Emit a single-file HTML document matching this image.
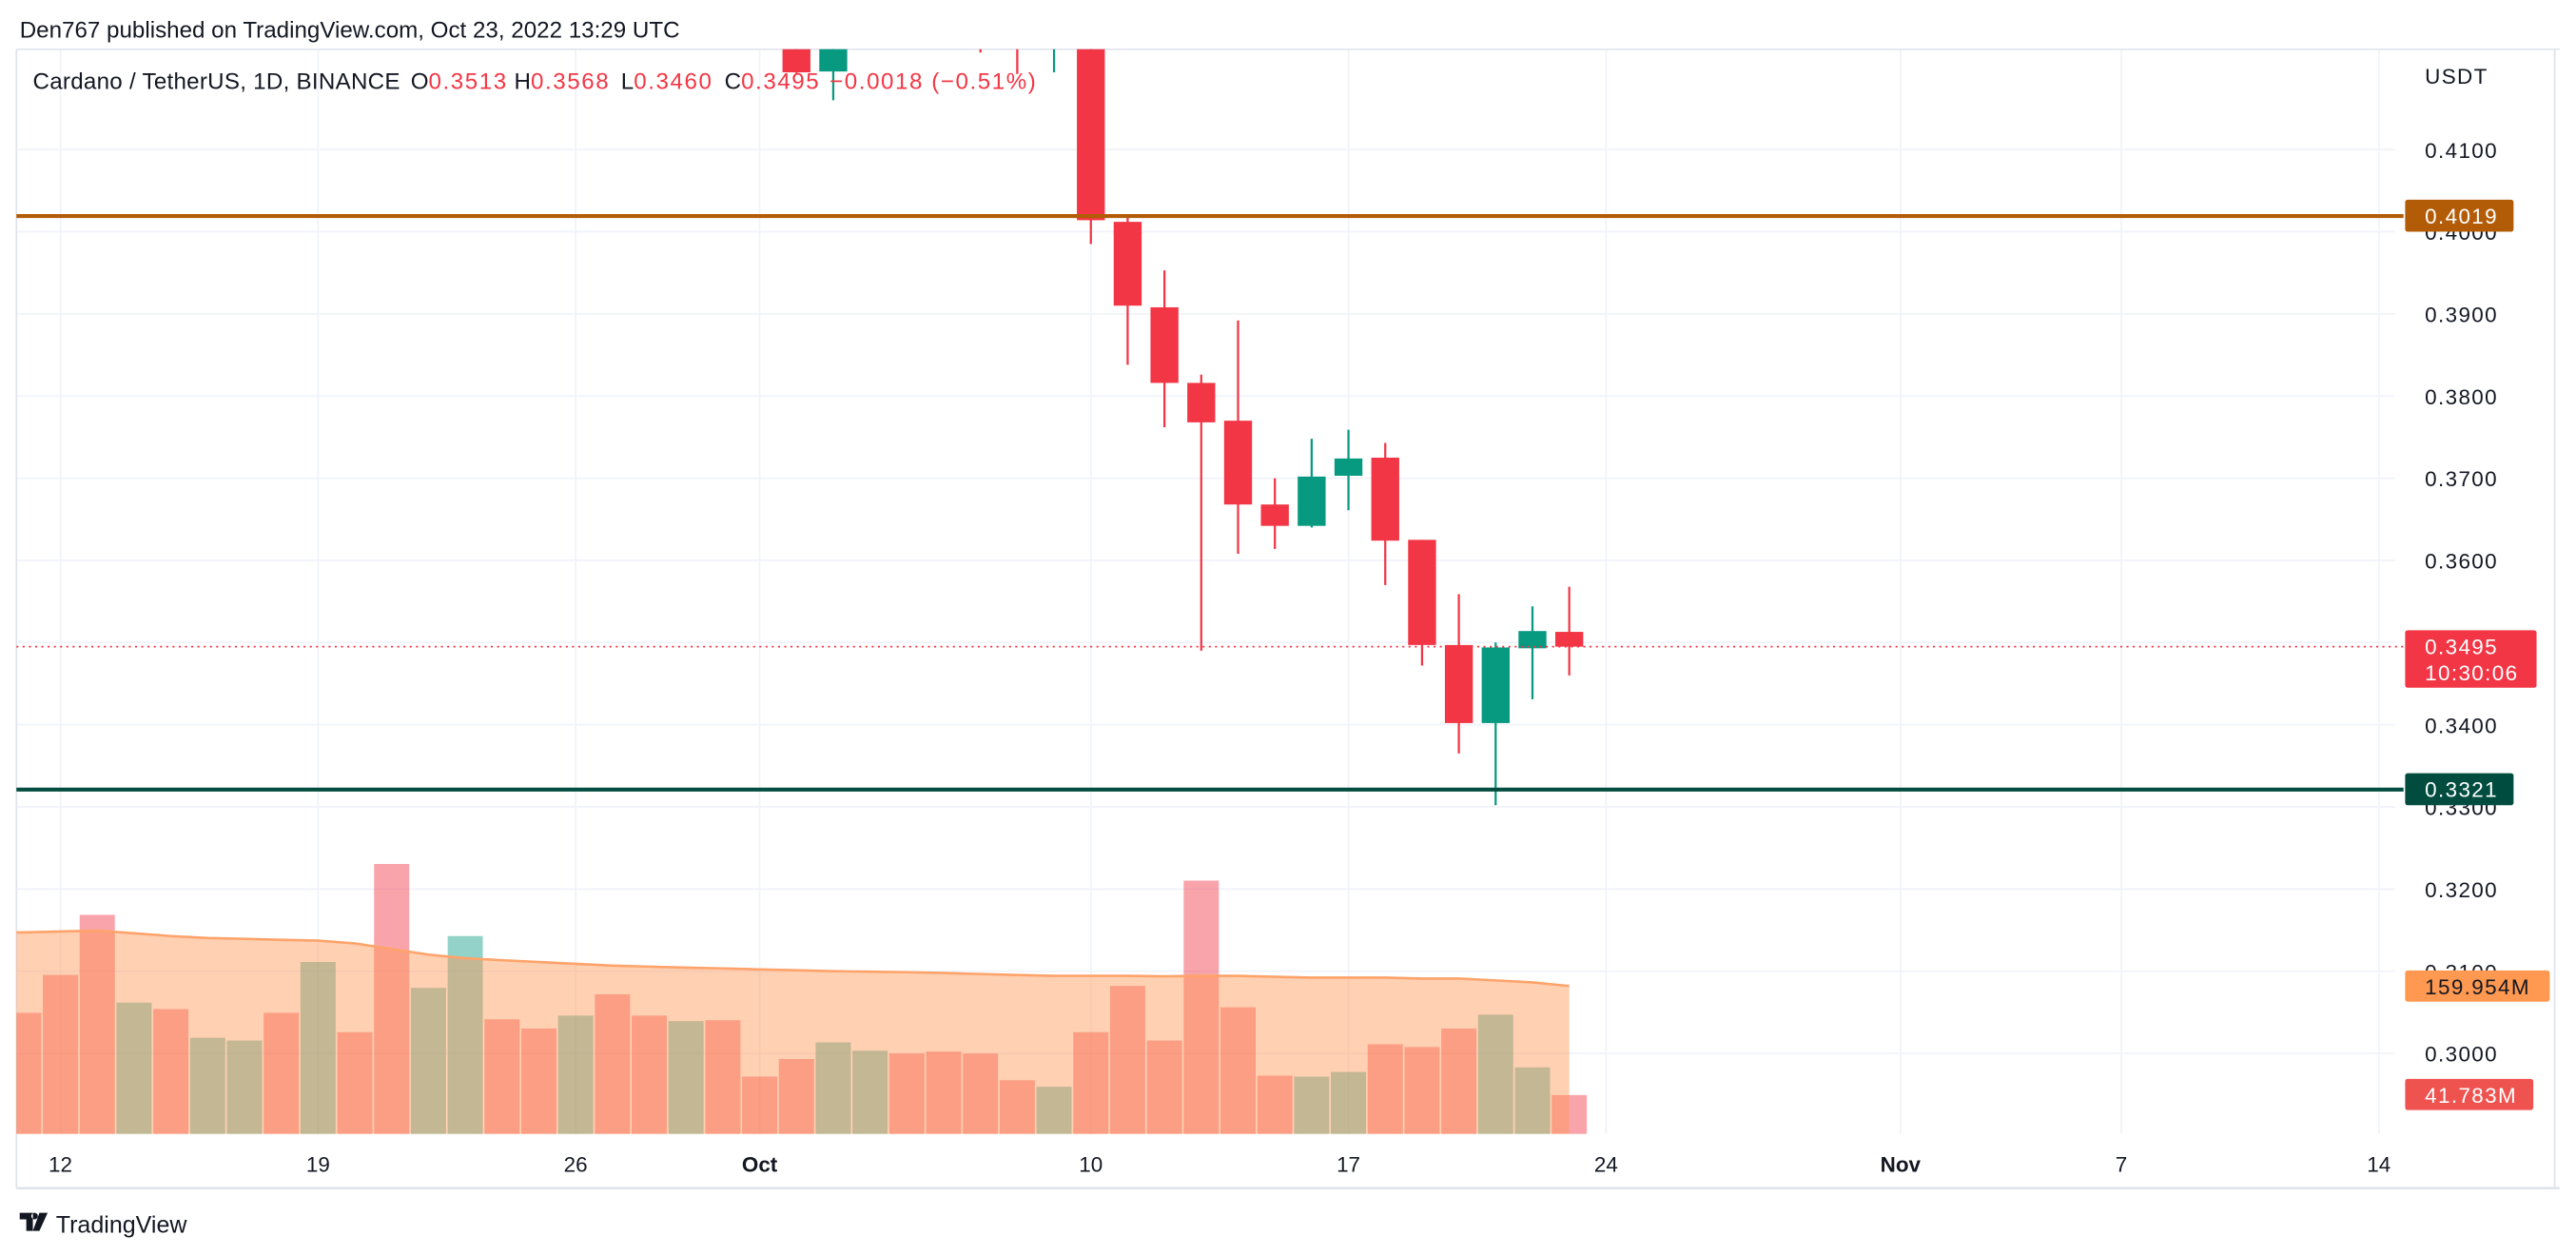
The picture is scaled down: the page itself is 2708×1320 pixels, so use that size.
<!DOCTYPE html>
<html><head><meta charset="utf-8"><style>
html,body{margin:0;padding:0;background:#fff;}
svg{display:block;font-family:"Liberation Sans",sans-serif;}
</style></head><body>
<svg id="chart" width="2708" height="1320" viewBox="0 0 1568 764.3" preserveAspectRatio="none" xmlns="http://www.w3.org/2000/svg">
<defs><clipPath id="plotclip"><rect x="10" y="30" width="1448" height="663"/></clipPath></defs>
<rect x="0" y="0" width="1568" height="764.3" fill="#fff"/>
<text x="12" y="23" font-size="14" fill="#131722">Den767 published on TradingView.com, Oct 23, 2022 13:29 UTC</text>
<g id="grid"></g>
<line x1="10" y1="30" x2="1558" y2="30" stroke="#e0e3eb" stroke-width="1"/>
<line x1="1555" y1="30" x2="1555" y2="723" stroke="#e0e3eb" stroke-width="1"/>
<line x1="10" y1="723" x2="1558" y2="723" stroke="#e0e3eb" stroke-width="1.5"/>
<line x1="10" y1="30" x2="10" y2="723" stroke="#e0e3eb" stroke-width="1"/>
<g id="plot" clip-path="url(#plotclip)">
<g id="volumes"></g>
<path id="maArea" fill="rgba(255,150,85,0.45)" stroke="none"/>
<path id="maLine" fill="none" stroke="#ffa36a" stroke-width="1.5"/>
<g id="candles"></g>
</g>
<g id="hlines"></g>
<g id="axisLabels"></g>
<text y="54" font-size="14" fill="#131722"><tspan x="20" letter-spacing="0.15">Cardano / TetherUS, 1D, BINANCE</tspan><tspan x="250">O</tspan><tspan fill="#f23645" letter-spacing="0.9">0.3513</tspan><tspan x="313">H</tspan><tspan fill="#f23645" letter-spacing="0.9">0.3568</tspan><tspan x="378">L</tspan><tspan fill="#f23645" letter-spacing="0.9">0.3460</tspan><tspan x="441">C</tspan><tspan fill="#f23645" letter-spacing="0.9">0.3495</tspan><tspan x="505" fill="#f23645" letter-spacing="0.9">−0.0018 (−0.51%)</tspan></text>
<g>
<path d="M12 738 h8 v11 h-4 v-7 h-4 z M21 738 a2 2 0 1 0 0.1 0 z M24 738 h5 l-5 11 h-4 z" fill="#131722"/>
<text x="34" y="750" font-size="14.5" fill="#131722">TradingView</text>
</g>
</svg>
<script>
// ---- data ----
const dates = ["Sep 11","Sep 12","Sep 13","Sep 14","Sep 15","Sep 16","Sep 17","Sep 18","Sep 19","Sep 20","Sep 21","Sep 22","Sep 23","Sep 24","Sep 25","Sep 26","Sep 27","Sep 28","Sep 29","Sep 30","Oct 1","Oct 2","Oct 3","Oct 4","Oct 5","Oct 6","Oct 7","Oct 8","Oct 9","Oct 10","Oct 11","Oct 12","Oct 13","Oct 14","Oct 15","Oct 16","Oct 17","Oct 18","Oct 19","Oct 20","Oct 21","Oct 22","Oct 23"];
const opens  = [0.470,0.480,0.490,0.470,0.475,0.470,0.460,0.465,0.470,0.455,0.450,0.440,0.445,0.455,0.450,0.445,0.448,0.455,0.445,0.448,0.442,0.425,0.4195,0.428,0.433,0.430,0.425,0.426,0.424,0.428,0.4012,0.3908,0.3816,0.3770,0.3668,0.3642,0.3703,0.3725,0.3625,0.3497,0.3402,0.3493,0.3513];
const highs  = [0.485,0.495,0.498,0.480,0.482,0.475,0.468,0.475,0.478,0.462,0.455,0.450,0.458,0.460,0.455,0.452,0.460,0.458,0.452,0.452,0.445,0.427,0.4300,0.435,0.436,0.433,0.426,0.427,0.430,0.430,0.4020,0.3953,0.3826,0.3892,0.3700,0.3748,0.3759,0.3743,0.3625,0.3559,0.3500,0.3544,0.3568];
const lows   = [0.465,0.475,0.468,0.465,0.465,0.458,0.458,0.462,0.452,0.448,0.438,0.436,0.442,0.448,0.443,0.440,0.445,0.443,0.440,0.438,0.423,0.4193,0.4160,0.426,0.428,0.424,0.4218,0.4192,0.4194,0.3985,0.3838,0.3762,0.3490,0.3608,0.3614,0.3640,0.3661,0.3570,0.3472,0.3365,0.3302,0.3431,0.3460];
const closes = [0.480,0.490,0.470,0.475,0.470,0.460,0.465,0.470,0.455,0.450,0.440,0.445,0.455,0.450,0.445,0.448,0.455,0.445,0.448,0.442,0.425,0.4194,0.428,0.433,0.430,0.425,0.423,0.424,0.428,0.4014,0.3910,0.3816,0.3768,0.3668,0.3642,0.3702,0.3724,0.3624,0.3497,0.3402,0.3494,0.3514,0.3495];
const volumes = [131,172,237,142,135,104,101,131,186,110,292,158,214,124,114,128,151,128,122,123,62,81,99,90,87,89,87,58,51,110,160,101,274,137,63,62,67,97,94,114,129,72,42];
const volumeUp = [0,0,0,1,0,1,1,0,1,0,0,1,1,0,0,1,0,0,1,0,0,0,1,1,0,0,0,0,1,0,0,0,0,0,0,1,1,0,0,0,1,1,0];
const volumeMA = [218,219,220,217,214,212,211,210,209,206,200,194,190,188,186,184,182,181,180,179,178,177,176,175.5,175,174,173,172,171,171,171,170.5,171,171,170,169,169,169,168,168,166,164,160];
const priceTicks = [0.41,0.40,0.39,0.38,0.37,0.36,0.35,0.34,0.33,0.32,0.31,0.30];
const timeTickLabels = ["12","19","26","Oct","10","17","24","Nov","7","14"];
const timeTickDays = [1,8,15,20,29,36,43,51,57,64];
const levelLines = [0.4019,0.3321];
const lastPrice = 0.3495;
const lastVolume = 41.783;
const lastMA = 159.954;

// ---- scales ----
const NS="http://www.w3.org/2000/svg";
const dayW=22.4;
function xDay(i){return 664+(i-29)*dayW;}
function yPrice(p){return 141-(p-0.40)*5000;}
function yVol(v){return 690-v*0.5625;}
function mk(tag,attrs,parent){const e=document.createElementNS(NS,tag);for(const k in attrs)e.setAttribute(k,attrs[k]);parent.appendChild(e);return e;}

// grid
const grid=document.getElementById('grid');
priceTicks.forEach(p=>{const l=mk('line',{x1:10,x2:1458,y1:yPrice(p),y2:yPrice(p),stroke:'#f0f3fa','stroke-width':1},grid);

});
timeTickDays.forEach(d=>{const l=mk('line',{x1:xDay(d),x2:xDay(d),y1:30,y2:690,stroke:'#f0f3fa','stroke-width':1},grid);

});

// volume bars
const vg=document.getElementById('volumes');
volumes.forEach((v,i)=>{const r=mk('rect',{x:xDay(i)-dayW/2+0.5,y:yVol(v),width:dayW-1,height:690-yVol(v),fill:volumeUp[i]?'rgba(8,153,129,0.44)':'rgba(242,54,69,0.45)'},vg);

});

// MA
let line='M'+(xDay(0)-dayW/2)+' '+yVol(volumeMA[0]).toFixed(1)+' ';
volumeMA.forEach((v,i)=>{line+='L'+xDay(i).toFixed(1)+' '+yVol(v).toFixed(1)+' ';});
const lastX=xDay(volumeMA.length-1);
document.getElementById('maLine').setAttribute('d',line);
document.getElementById('maArea').setAttribute('d',line+'L'+lastX+' 690 L'+(xDay(0)-dayW/2)+' 690 Z');

// candles
const cg=document.getElementById('candles');
const bw=17;
opens.forEach((o,i)=>{const c=closes[i];const up=c>=o;const col=up?'#089981':'#f23645';const x=xDay(i);
const g=mk('g',{},cg);


mk('line',{x1:x,x2:x,y1:yPrice(highs[i]),y2:yPrice(lows[i]),stroke:col,'stroke-width':1.3},g);
const top=yPrice(Math.max(o,c)),bot=yPrice(Math.min(o,c));
mk('rect',{x:x-bw/2,y:top,width:bw,height:Math.max(1,bot-top),fill:col},g);});

// horizontal level lines
const hg=document.getElementById('hlines');
const lvlCols=['#b35c07','#004d40'];
levelLines.forEach((p,i)=>{const l=mk('line',{x1:10,x2:1463,y1:yPrice(p),y2:yPrice(p),stroke:lvlCols[i],'stroke-width':2.4},hg);

});
const dl=mk('line',{x1:10,x2:1463,y1:yPrice(lastPrice),y2:yPrice(lastPrice),stroke:'#f23645','stroke-width':1,'stroke-dasharray':'1.2 2.6'},hg);



// axis labels
const ag=document.getElementById('axisLabels');
function txt(s,x,y,opt){const t=mk('text',Object.assign({x:x,y:y,'font-size':13,fill:'#131722','letter-spacing':'0.8'},opt||{}),ag);t.textContent=s;return t;}
const u=txt('USDT',1476,51);


priceTicks.forEach(p=>{const t=txt(p.toFixed(4),1476,yPrice(p)+5);

});
timeTickLabels.forEach((s,i)=>{const bold=(s==='Oct'||s==='Nov');const t=txt(s,xDay(timeTickDays[i]),713,{'text-anchor':'middle','font-weight':bold?'bold':'normal','letter-spacing':'0'});

});
function tag(y,h,w,bg,lines,fg,name){const g=mk('g',{},ag);


mk('rect',{x:1464,y:y,width:w,height:h,rx:1.5,fill:bg},g);
lines.forEach((s,k)=>{const t=mk('text',{x:1476,y:y+14.5+k*16,'font-size':13,fill:fg,'letter-spacing':'0.8'},g);t.textContent=s;});}
tag(yPrice(levelLines[0])-10,19.5,66,'#b35c07',[levelLines[0].toFixed(4)],'#fff','level-label-resistance');
tag(yPrice(levelLines[1])-10,19.5,66,'#004d40',[levelLines[1].toFixed(4)],'#fff','level-label-support');
tag(yPrice(lastPrice)-10,35,80,'#f23645',[lastPrice.toFixed(4),'10:30:06'],'#fff','last-price-label');
tag(yVol(lastMA)-9.5,19,88,'#ff9850',[lastMA.toFixed(3)+'M'],'#131722','volume-ma-label');
tag(yVol(lastVolume)-10,19,78,'#ef5350',[lastVolume.toFixed(3)+'M'],'#fff','last-volume-label');
</script>
</body></html>
